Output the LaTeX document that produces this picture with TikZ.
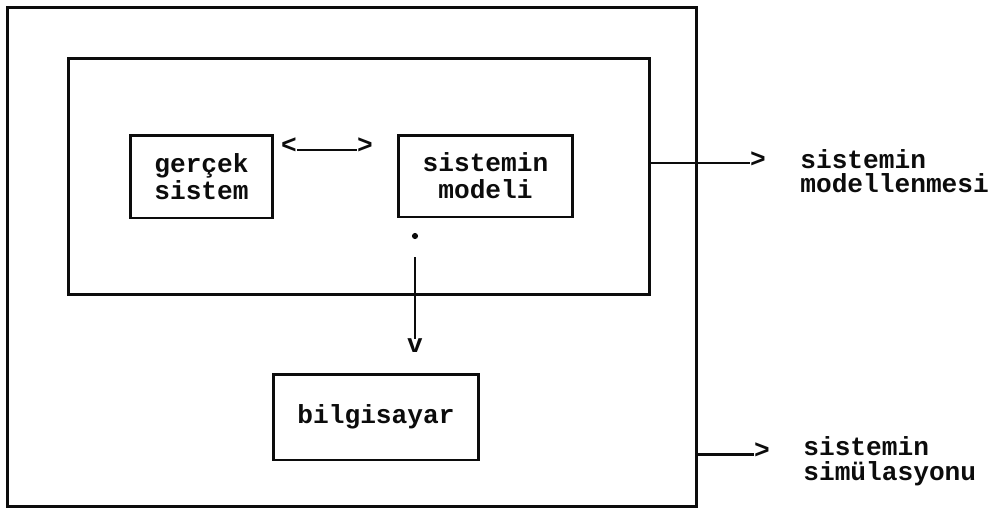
\documentclass[tikz,border=0pt]{standalone}
\usepackage{fontspec}
\setmonofont{Liberation Mono}
\usepackage{tikz}
\usetikzlibrary{positioning, calc}
\definecolor{myink}{RGB}{12,12,12}
\newcommand{\dotfont}{\fontsize{14.9}{15.5}\selectfont\ttfamily\bfseries}
\newcommand{\tagfont}{\fontsize{14.9}{14}\selectfont\ttfamily\bfseries}
\tikzset{
  frame/.style={rectangle, draw=myink, line width=1.7pt, inner sep=0pt},
  block/.style={rectangle, draw=myink, line width=1.7pt, align=center,
    inner sep=0pt, font=\dotfont, text=myink},
  glyph/.style={inner sep=0pt, font=\dotfont, text=myink},
  tag/.style={inner sep=0pt, align=left, anchor=west, font=\tagfont, text=myink},
  line/.style={line width=1.7pt, color=myink}
}

\begin{document}
\begin{tikzpicture}[x=0.02cm, y=-0.02cm]
  \useasboundingbox (0,0) rectangle (997,511);

  % Frames: whole system and the modelling part
  \node[frame, minimum width=13.8cm, minimum height=10cm] (outer) at (352,257) {};
  \node[frame, minimum width=11.64cm, minimum height=4.74cm] (inner) at (359,176.5) {};

  % Blocks
  \node[block, minimum width=2.86cm, minimum height=1.66cm] (gercek) at (201.5,176.5) {gerçek\\sistem};
  \node[block, minimum width=3.5cm, minimum height=1.64cm] (model) at (485.5,176) {sistemin\\modeli};
  \node[block, minimum width=4.12cm, minimum height=1.72cm] (pc) at (376,417) {bilgisayar};

  % Typed two-way arrow between real system and model
  \node[glyph] (lt) at (289,146) {<};
  \node[glyph] (gt) at (365,146) {>};
  \draw[line] ($(lt.east)+(0,4)$) -- ($(gt.west)+(0,4)$);

  % Typed arrow from model down to computer
  \node[circle, fill=myink, inner sep=0pt, minimum size=3.5pt] (caret) at (415,236) {};
  \node[glyph] (vv) at (415,346) {v};
  \draw[line] ($(caret)+(0,21)$) -- (vv.north);

  % Outputs on the right
  \node[glyph] (gt1) at (758,160) {>};
  \draw[line] ($(inner.east |- gt1)+(0,3)$) -- ($(gt1.west)+(0,3)$);
  \node[tag] (lab1) at (800,171) {sistemin\\modellenmesi};

  \node[glyph] (gt2) at (762,451) {>};
  \draw[line] ($(outer.east |- gt2)+(0,3)$) -- ($(gt2.west)+(0,3)$);
  \node[tag] (lab2) at (803,461) {sistemin\\simülasyonu};
\end{tikzpicture}
\end{document}
